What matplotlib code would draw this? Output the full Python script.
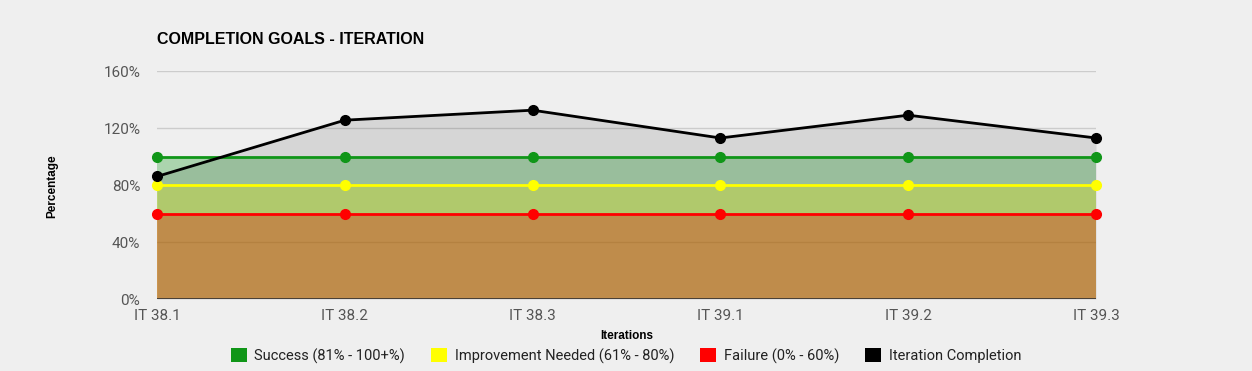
import matplotlib.pyplot as plt
from matplotlib.patches import Patch
from matplotlib.ticker import FuncFormatter

plt.rcParams['font.family'] = ['Liberation Sans', 'DejaVu Sans']

# ============================== data =========================================

iterations = ["IT 38.1", "IT 38.2", "IT 38.3", "IT 39.1", "IT 39.2", "IT 39.3"]
success = [100, 100, 100, 100, 100, 100]
improvement = [80, 80, 80, 80, 80, 80]
failure = [60, 60, 60, 60, 60, 60]
completion = [86, 125.5, 132.5, 113, 129, 113]

series_names = ["Success (81% - 100+%)", "Improvement Needed (61% - 80%)",
                "Failure (0% - 60%)", "Iteration Completion"]
colors = ["#109618", "#ffff00", "#ff0000", "#000000"]
BG = "#efefef"

# ============================== plot =========================================

def main():
    fig = plt.figure(figsize=(12.52, 3.71), dpi=100, facecolor=BG)
    ax = fig.add_axes([0.1254, 0.194, 0.75, 0.6146], facecolor=BG)

    x = list(range(len(iterations)))
    goals = [success, improvement, failure]

    # gridlines under the areas
    for gy in [40, 80, 120, 160]:
        ax.axhline(gy, color="#cccccc", lw=1, zorder=0)

    # goal areas, then the completion area as a light veil on top
    for vals, col in zip(goals, colors[:3]):
        ax.fill_between(x, 0, vals, color=col, alpha=0.3, lw=0, zorder=1)
    ax.fill_between(x, 0, completion, color="#000000", alpha=0.1, lw=0, zorder=2)

    for vals, col in zip(goals + [completion], colors):
        ax.plot(x, vals, color=col, lw=2, marker="o", markersize=7,
                zorder=4, clip_on=False)

    ax.axhline(0, color="#333333", lw=1.2, zorder=5)

    ax.set_xlim(0, len(iterations) - 1)
    ax.set_ylim(0, 160)
    ax.set_xticks(x)
    ax.set_xticklabels(iterations)
    ax.set_yticks([0, 40, 80, 120, 160])
    ax.yaxis.set_major_formatter(FuncFormatter(lambda v, p: "{0:d}%".format(int(v))))
    ax.tick_params(axis="both", length=0, labelsize=11, colors="#555555")
    ax.tick_params(axis="y", pad=12)
    ax.tick_params(axis="x", pad=7)
    for lbl in ax.get_xticklabels() + ax.get_yticklabels():
        lbl.set_fontfamily(["Roboto", "DejaVu Sans"])
    for s in ax.spines.values():
        s.set_visible(False)

    ax.set_xlabel("Iterations", fontsize=8.5, fontweight="bold")
    ax.set_ylabel("Percentage", fontsize=8.5, fontweight="bold")
    ax.xaxis.set_label_coords(0.5, (299 - 330) / 228.0)
    ax.yaxis.set_label_coords((58 - 157) / 939.0, (299 - 186) / 228.0)

    fig.text(157 / 1252, 1 - 40 / 371, "COMPLETION GOALS - ITERATION",
             fontsize=11.5, fontweight="bold", va="center", ha="left")

    handles = [Patch(facecolor=c, edgecolor="none") for c in colors]
    leg = fig.legend(handles, series_names, loc="center", ncol=4, frameon=False,
                     bbox_to_anchor=(0.5, 1 - 356 / 371), fontsize=10.5,
                     handlelength=1.1, handleheight=1.1, handletextpad=0.5,
                     columnspacing=1.8, labelcolor="#222222")
    for t in leg.get_texts():
        t.set_fontfamily(["Roboto", "DejaVu Sans"])

    fig.savefig("out.png", dpi=100, facecolor=BG)


if __name__ == '__main__':
    main()
